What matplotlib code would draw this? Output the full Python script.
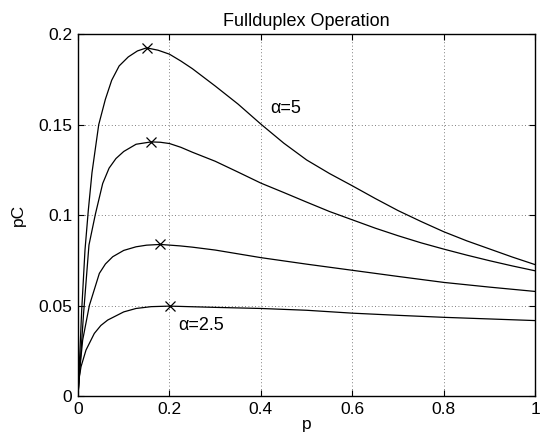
import matplotlib
matplotlib.use('Agg')
import matplotlib.pyplot as plt

plt.rcParams['font.family'] = ['Liberation Sans', 'DejaVu Sans']

# curve alpha=5 (top)
p_a5 = [0, 0.008, 0.0153, 0.0225, 0.0306, 0.0453, 0.0598, 0.0737, 0.090, 0.110, 0.130, 0.150,
        0.175, 0.200, 0.225, 0.250, 0.300, 0.350, 0.400, 0.450, 0.500, 0.550, 0.600,
        0.650, 0.700, 0.750, 0.800, 0.850, 0.900, 0.950, 1.000]
pc_a5 = [0, 0.047, 0.0807, 0.1025, 0.1235, 0.1500, 0.1640, 0.1746, 0.1825, 0.1875, 0.1908, 0.1925,
         0.1912, 0.1890, 0.1852, 0.1810, 0.1714, 0.1614, 0.1503, 0.1398, 0.1305, 0.1230, 0.1162,
         0.1092, 0.1025, 0.0965, 0.0908, 0.0858, 0.0813, 0.0768, 0.0726]

# second curve
p_c2 = [0, 0.012, 0.024, 0.038, 0.054, 0.068, 0.083, 0.100, 0.127, 0.160, 0.180, 0.200, 0.225, 0.250,
        0.300, 0.350, 0.400, 0.450, 0.500, 0.550, 0.600, 0.650, 0.700, 0.750, 0.800, 0.850,
        0.900, 0.950, 1.000]
pc_c2 = [0, 0.045, 0.0835, 0.1005, 0.1175, 0.1260, 0.1313, 0.1352, 0.1392, 0.1405, 0.1403, 0.1396, 0.1375, 0.1348,
         0.1298, 0.1238, 0.1177, 0.1125, 0.1072, 0.1020, 0.0974, 0.0928, 0.0886, 0.0847, 0.0812, 0.0779,
         0.0748, 0.0719, 0.0692]

# third curve
p_c3 = [0, 0.004, 0.0102, 0.0248, 0.0467, 0.060, 0.0759, 0.100, 0.127, 0.150, 0.180, 0.223, 0.250,
        0.300, 0.400, 0.500, 0.600, 0.700, 0.800, 0.900, 1.000]
pc_c3 = [0, 0.0150, 0.0309, 0.0500, 0.0678, 0.0730, 0.0770, 0.0805, 0.0825, 0.0834, 0.0838, 0.0830, 0.0823,
         0.0807, 0.0765, 0.0729, 0.0695, 0.0661, 0.0628, 0.0602, 0.0578]

# curve alpha=2.5 (bottom)
p_a25 = [0, 0.002, 0.0066, 0.0175, 0.0357, 0.050, 0.065, 0.100, 0.127, 0.160, 0.200, 0.300,
         0.400, 0.500, 0.600, 0.700, 0.800, 0.900, 1.000]
pc_a25 = [0, 0.0090, 0.0162, 0.0254, 0.0346, 0.0390, 0.0420, 0.0465, 0.0484, 0.0494, 0.0497, 0.0490,
          0.0484, 0.0474, 0.0458, 0.0446, 0.0435, 0.0426, 0.0417]

# maxima
peak_p = [0.150, 0.160, 0.179, 0.201]
peak_pc = [0.1925, 0.1405, 0.0838, 0.0497]

xticks = [0, 0.2, 0.4, 0.6, 0.8, 1]
xticklabels = ['0', '0.2', '0.4', '0.6', '0.8', '1']
yticks = [0, 0.05, 0.1, 0.15, 0.2]
yticklabels = ['0', '0.05', '0.1', '0.15', '0.2']

fig = plt.figure(figsize=(5.42, 4.43), dpi=100)
ax = fig.add_axes([0.1439, 0.1061, 0.8438, 0.8165])

for px, py in [(p_a5, pc_a5), (p_c2, pc_c2), (p_c3, pc_c3), (p_a25, pc_a25)]:
    ax.plot(px, py, color='black', linewidth=0.9)
ax.plot(peak_p, peak_pc, linestyle='none', marker='x', color='black', markersize=7, markeredgewidth=0.9)

ax.text(0.420, 0.1588, 'α=5', fontsize=13, ha='left', va='center')
ax.text(0.219, 0.0392, 'α=2.5', fontsize=13, ha='left', va='center')

ax.set_xlim(0, 1)
ax.set_ylim(0, 0.2)
ax.set_xticks(xticks)
ax.set_xticklabels(xticklabels)
ax.set_yticks(yticks)
ax.set_yticklabels(yticklabels)
ax.tick_params(direction='in', length=4, width=0.8, labelsize=12.5, top=True, right=True, pad=4)
ax.grid(True, linestyle=(0, (1, 3)), color='#555555', linewidth=0.6)
for s in ax.spines.values():
    s.set_linewidth(1.0)

ax.set_title('Fullduplex Operation', fontsize=13, pad=6)
ax.set_xlabel('p', fontsize=12.5, labelpad=0)
ax.set_ylabel('pC', fontsize=12.5, labelpad=9)

plt.savefig('out.png', dpi=100)
